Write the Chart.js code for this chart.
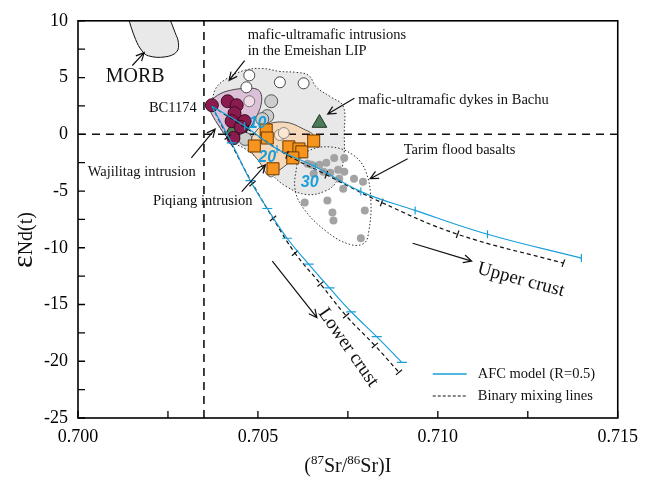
<!DOCTYPE html>
<html>
<head>
<meta charset="utf-8">
<script src="https://cdn.jsdelivr.net/npm/chart.js@4.4.1/dist/chart.umd.min.js"></script>
<style>
  html, body { margin: 0; padding: 0; background: #fff; }
  canvas { display: block; }
</style>
</head>
<body>
<canvas id="srNdChart" width="646" height="484"></canvas>
<script>
// axis ticks
const xTickValues = [0.700, 0.7025, 0.705, 0.7075, 0.710, 0.7125, 0.715];
const xTickLabels = ['0.700', '', '0.705', '', '0.710', '', '0.715'];
const yTickValues = [-25, -22.5, -20, -17.5, -15, -12.5, -10, -7.5, -5, -2.5, 0, 2.5, 5, 7.5, 10];
const yTickLabels = ['-25', '', '-20', '', '-15', '', '-10', '', '-5', '', '0', '', '5', '', '10'];

// reference lines
const bulkEarthSr = 0.7035;
const chondriteNd = 0;

// Wajilitag intrusion (maroon circles), first one is BC1174
const wajilitagSr = [0.70372, 0.70416, 0.70441, 0.70435, 0.70463, 0.70427, 0.70452, 0.70432];
const wajilitagNd = [2.56, 2.91, 2.56, 1.86, 1.16, 1.16, 0.64, -0.33];
const wajilitagOpenSr = [0.70476];
const wajilitagOpenNd = [2.91];

// Piqiang intrusion (orange squares)
const piqiangSr = [0.70523, 0.70526, 0.70490, 0.70586, 0.70614, 0.70622, 0.70597, 0.70542, 0.70655];
const piqiangNd = [0.38, -0.33, -1.03, -1.11, -1.29, -1.55, -2.08, -3.04, -0.59];
const piqiangOpenSr = [0.70561, 0.70572];
const piqiangOpenNd = [-0.06, 0.11];

// Emeishan LIP intrusions
const emeishanSr = [0.70476, 0.70468, 0.70561, 0.70627];
const emeishanNd = [5.19, 4.14, 4.58, 4.49];
const grayIntrusionSr = [0.70537, 0.70526, 0.70512, 0.70465];
const grayIntrusionNd = [2.91, 1.60, 1.34, -0.41];

// Bachu dykes
const bachuSr = [0.70671, 0.70430];
const bachuNd = [0.99, 0.38];

// Tarim flood basalts
const tarimSr = [0.70649, 0.70671, 0.70690, 0.70712, 0.70740, 0.70638, 0.70655, 0.70682, 0.70701, 0.70723, 0.70740,
  0.70726, 0.70767, 0.70792, 0.70737, 0.70630, 0.70693, 0.70707, 0.70710, 0.70797, 0.70786];
const tarimNd = [-2.69, -2.69, -2.51, -2.08, -2.08, -2.60, -3.48, -3.30, -3.39, -3.13, -3.30,
  -3.91, -3.91, -4.18, -4.79, -6.01, -5.84, -6.89, -7.59, -6.71, -9.16];

// AFC model and binary mixing curves (points at 10 % steps)
const afcUpperSr = [0.70372, 0.70463, 0.70553, 0.70660, 0.70786, 0.70937, 0.71138, 0.71399];
const afcUpperNd = [2.48, 0.73, -1.29, -2.86, -5.05, -6.71, -8.81, -10.91];
const mixUpperSr = [0.70372, 0.70471, 0.70581, 0.70690, 0.70844, 0.71055, 0.71349];
const mixUpperNd = [2.48, 0.46, -1.81, -3.56, -6.01, -8.81, -11.35];
const afcLowerSr = [0.70372, 0.70427, 0.70479, 0.70526, 0.70581, 0.70641, 0.70699, 0.70759, 0.70830, 0.70900];
const afcLowerNd = [2.48, -0.76, -4.09, -6.54, -9.16, -11.44, -13.54, -15.64, -17.83, -20.10];
const mixLowerSr = [0.70372, 0.70416, 0.70485, 0.70542, 0.70603, 0.70674, 0.70745, 0.70825, 0.70892];
const mixLowerNd = [2.48, -0.24, -4.35, -7.41, -10.47, -13.19, -15.99, -18.61, -20.97];

// field outlines
const morbFieldSr = [0.70137, 0.70160, 0.70178, 0.70196, 0.70242, 0.70274, 0.70279, 0.70270, 0.70251];
const morbFieldNd = [10.5, 8.36, 7.35, 6.91, 6.82, 7.26, 8.08, 8.95, 10.5];
const emeishanFieldSr = [0.70372, 0.70383, 0.70410, 0.70462, 0.70512, 0.70561, 0.70608, 0.70641, 0.70663, 0.70704, 0.70737,
  0.70740, 0.70737, 0.70718, 0.70690, 0.70635, 0.70575, 0.70531, 0.70493, 0.70465, 0.70430, 0.70394];
const emeishanFieldNd = [2.83, 4.05, 4.84, 5.63, 5.80, 5.54, 5.45, 5.19, 4.14, 3.26, 2.48,
  0.20, -2.43, -4.18, -4.96, -5.31, -4.53, -3.30, -1.99, -1.29, -0.68, 0.64];
const wajilitagFieldSr = [0.70361, 0.70388, 0.70424, 0.70471, 0.70498, 0.70509, 0.70509, 0.70498, 0.70479, 0.70457, 0.70435, 0.70421, 0.70388, 0.70366];
const wajilitagFieldNd = [2.65, 3.44, 3.88, 4.05, 3.96, 3.53, 2.65, 1.69, 0.64, 0.03, -0.68, -0.50, 0.90, 2.13];
const piqiangFieldSr = [0.70476, 0.70493, 0.70512, 0.70572, 0.70627, 0.70657, 0.70638, 0.70600, 0.70561, 0.70534, 0.70504, 0.70479];
const piqiangFieldNd = [-0.67, 0.20, 0.73, 1.08, 0.46, -0.24, -1.20, -2.16, -3.13, -3.74, -2.43, -1.38];
const tarimFieldSr = [0.70608, 0.70635, 0.70699, 0.70764, 0.70800, 0.70814, 0.70808, 0.70795, 0.70754, 0.70690, 0.70627, 0.70603];
const tarimFieldNd = [-2.69, -1.55, -1.11, -1.81, -3.30, -5.93, -8.55, -9.60, -9.69, -8.55, -6.54, -4.79];

const CYAN = '#1a9fd9';
const SERIF = '"Liberation Serif", "Times New Roman", serif';

const pts = (xs, ys) => xs.map((v, i) => ({ x: v, y: ys[i] }));
const closed = (xs, ys) => pts(xs.concat(xs[0]), ys.concat(ys[0]));

function field(data, fillColor, lineColor, dash, order) {
  return {
    data: data, showLine: true, fill: fillColor ? 'shape' : false,
    backgroundColor: fillColor || 'transparent', borderColor: lineColor, borderWidth: 1,
    borderDash: dash, pointRadius: 0, tension: 0.4, order: order
  };
}

function curve(xs, ys, color, dash, order) {
  return {
    data: pts(xs, ys), showLine: true, fill: false, borderColor: color, borderWidth: 1.2,
    borderDash: dash, pointRadius: 0, tension: 0.4, order: order
  };
}

function curveTicks(xs, ys, color, rot, r, order) {
  return {
    data: pts(xs.slice(1), ys.slice(1)), showLine: false, pointStyle: 'line',
    pointRotation: rot, pointRadius: r, pointBorderColor: color, pointBorderWidth: 1.2,
    pointBackgroundColor: color, order: order
  };
}

function symbols(xs, ys, style, r, fillColor, lineColor, order) {
  return {
    data: pts(xs, ys), showLine: false, pointStyle: style, pointRadius: r,
    pointBackgroundColor: fillColor, pointBorderColor: lineColor,
    pointBorderWidth: lineColor ? 1 : 0, order: order
  };
}

const datasets = [
  field(pts(morbFieldSr, morbFieldNd), '#e9e9e9', '#111', [], 100),
  field(closed(emeishanFieldSr, emeishanFieldNd), '#e8e8e8', '#333', [1.5, 2], 99),
  field(closed(tarimFieldSr, tarimFieldNd), null, '#333', [1.5, 2], 98),
  field(closed(wajilitagFieldSr, wajilitagFieldNd), '#dcc0d8', '#444', [], 97),
  field(closed(piqiangFieldSr, piqiangFieldNd), '#f8d8ba', '#555', [], 96),
  {
    data: [{ x: bulkEarthSr, y: -25 }, { x: bulkEarthSr, y: 10 }], showLine: true, borderColor: '#111',
    borderWidth: 1.6, borderDash: [8, 6], pointRadius: 0, order: 90
  },
  {
    data: [{ x: 0.700, y: chondriteNd }, { x: 0.715, y: chondriteNd }], showLine: true, borderColor: '#111',
    borderWidth: 1.6, borderDash: [8, 6], pointRadius: 0, order: 90
  },
  symbols(tarimSr, tarimNd, 'circle', 4, '#a3a3a3', null, 60),
  symbols(emeishanSr, emeishanNd, 'circle', 5.5, '#ffffff', '#444', 55),
  symbols(grayIntrusionSr, grayIntrusionNd, 'circle', 6.5, '#cdcdcd', '#555', 54),
  symbols(wajilitagOpenSr, wajilitagOpenNd, 'circle', 5.5, '#f3dcea', '#777', 53),
  symbols(piqiangOpenSr, piqiangOpenNd, 'circle', 5.5, '#fbe7d3', '#888', 53),
  symbols(bachuSr, bachuNd, 'triangle', 8.5, '#4d7a58', '#1d3623', 52),
  symbols(wajilitagSr, wajilitagNd, 'circle', 6.5, '#8b1b4e', '#3a0b20', 51),
  symbols(piqiangSr, piqiangNd, 'rect', 8.5, '#f7941d', '#6b3a00', 50),
  curve(mixUpperSr, mixUpperNd, '#111', [4, 3], 20),
  curve(mixLowerSr, mixLowerNd, '#111', [4, 3], 20),
  curveTicks(mixUpperSr, mixUpperNd, '#111', -70, 4, 19),
  curveTicks(mixLowerSr, mixLowerNd, '#111', -40, 4, 19),
  curve(afcUpperSr, afcUpperNd, CYAN, [], 10),
  curve(afcLowerSr, afcLowerNd, CYAN, [], 10),
  curveTicks(afcUpperSr, afcUpperNd, CYAN, 90, 4, 9),
  curveTicks(afcLowerSr, afcLowerNd, CYAN, 0, 5, 9)
];

// labels placed in data units
const notes = [
  { text: 'MORB', x: 0.70159, y: 5.10, size: 20, align: 'center' },
  { text: 'mafic-ultramafic intrusions', x: 0.70472, y: 8.69, size: 14.5, align: 'left' },
  { text: 'in the Emeishan LIP', x: 0.70472, y: 7.29, size: 14.5, align: 'left' },
  { text: 'mafic-ultramafic dykes in Bachu', x: 0.70779, y: 3.00, size: 14.5, align: 'left' },
  { text: 'BC1174', x: 0.70330, y: 2.30, size: 14.5, align: 'right' },
  { text: 'Wajilitag intrusion', x: 0.70027, y: -3.30, size: 14.5, align: 'left' },
  { text: 'Piqiang intrusion', x: 0.70485, y: -5.93, size: 14.5, align: 'right' },
  { text: 'Tarim flood basalts', x: 0.70905, y: -1.38, size: 14.5, align: 'left' },
  { text: 'Upper crust', x: 0.71231, y: -12.84, size: 19, align: 'center', angle: 15 },
  { text: 'Lower crust', x: 0.70751, y: -18.79, size: 19, align: 'center', angle: 55 }
];
const fractionLabels = [
  { text: '10', x: 0.70499, y: 0.90 },
  { text: '20', x: 0.70526, y: -2.08 },
  { text: '30', x: 0.70644, y: -4.26 }
];
const arrows = [
  [0.70151, 6.06, 0.70184, 7.20],
  [0.70463, 6.50, 0.70420, 4.75],
  [0.70768, 3.18, 0.70694, 1.78],
  [0.70315, -2.08, 0.70381, 0.46],
  [0.70455, -5.05, 0.70521, -2.69],
  [0.70916, -2.16, 0.70812, -3.91],
  [0.70930, -9.60, 0.71094, -11.18],
  [0.70540, -11.18, 0.70664, -16.16]
];

const decor = {
  id: 'decor',
  beforeDraw(chart) {
    const c = chart.ctx;
    c.save();
    c.fillStyle = '#fff';
    c.fillRect(0, 0, chart.width, chart.height);
    c.restore();
  },
  afterDatasetsDraw(chart) {
    const { ctx, chartArea: a, scales: { x, y } } = chart;
    const X = v => x.getPixelForValue(v);
    const Y = v => y.getPixelForValue(v);
    ctx.save();

    // frame and inward ticks
    ctx.strokeStyle = '#000';
    ctx.lineWidth = 1.6;
    ctx.strokeRect(a.left, a.top, a.right - a.left, a.bottom - a.top);
    ctx.lineWidth = 1.3;
    ctx.beginPath();
    xTickValues.forEach(v => { ctx.moveTo(X(v), a.bottom); ctx.lineTo(X(v), a.bottom - 7); });
    yTickValues.forEach(v => { ctx.moveTo(a.left, Y(v)); ctx.lineTo(a.left + 7, Y(v)); });
    ctx.stroke();

    // arrows
    ctx.lineWidth = 1.2;
    ctx.strokeStyle = '#111';
    arrows.forEach(([x1, y1, x2, y2]) => {
      const p1 = [X(x1), Y(y1)], p2 = [X(x2), Y(y2)];
      const ang = Math.atan2(p2[1] - p1[1], p2[0] - p1[0]);
      ctx.beginPath();
      ctx.moveTo(p1[0], p1[1]);
      ctx.lineTo(p2[0], p2[1]);
      ctx.moveTo(p2[0] - 9 * Math.cos(ang - 0.45), p2[1] - 9 * Math.sin(ang - 0.45));
      ctx.lineTo(p2[0], p2[1]);
      ctx.lineTo(p2[0] - 9 * Math.cos(ang + 0.45), p2[1] - 9 * Math.sin(ang + 0.45));
      ctx.stroke();
    });

    // text notes
    ctx.fillStyle = '#111';
    ctx.textBaseline = 'middle';
    notes.forEach(n => {
      ctx.save();
      ctx.translate(X(n.x), Y(n.y));
      if (n.angle) ctx.rotate(n.angle * Math.PI / 180);
      ctx.font = n.size + 'px ' + SERIF;
      ctx.textAlign = n.align;
      ctx.fillText(n.text, 0, 0);
      ctx.restore();
    });

    ctx.fillStyle = CYAN;
    ctx.font = 'italic bold 16px "Liberation Sans", Arial, sans-serif';
    ctx.textAlign = 'center';
    fractionLabels.forEach(f => ctx.fillText(f.text, X(f.x), Y(f.y)));

    // legend
    const lx = a.right - 185;
    ctx.strokeStyle = CYAN;
    ctx.lineWidth = 1.5;
    ctx.beginPath();
    ctx.moveTo(lx, a.bottom - 44);
    ctx.lineTo(lx + 34, a.bottom - 44);
    ctx.stroke();
    ctx.strokeStyle = '#111';
    ctx.lineWidth = 1;
    ctx.setLineDash([3, 2]);
    ctx.beginPath();
    ctx.moveTo(lx, a.bottom - 22);
    ctx.lineTo(lx + 35, a.bottom - 22);
    ctx.stroke();
    ctx.setLineDash([]);
    ctx.fillStyle = '#111';
    ctx.textAlign = 'left';
    ctx.font = '14.5px ' + SERIF;
    ctx.fillText('AFC model (R=0.5)', lx + 45, a.bottom - 44);
    ctx.fillText('Binary mixing lines', lx + 45, a.bottom - 22);

    // y title
    ctx.save();
    ctx.translate(32, 240);
    ctx.rotate(-Math.PI / 2);
    ctx.textBaseline = 'alphabetic';
    ctx.font = '30px ' + SERIF;
    const w1 = ctx.measureText('\u025B').width;
    ctx.font = '20px ' + SERIF;
    const w2 = ctx.measureText('Nd(t)').width;
    const sx = -(w1 + w2) / 2;
    ctx.font = '30px ' + SERIF;
    ctx.fillText('\u025B', sx, 0);
    ctx.font = '20px ' + SERIF;
    ctx.fillText('Nd(t)', sx + w1, 0);
    ctx.restore();

    // x title with superscripts
    const parts = [['(', 20, 0], ['87', 13, -8], ['Sr/', 20, 0], ['86', 13, -8], ['Sr)I', 20, 0]];
    let total = 0;
    parts.forEach(p => { ctx.font = p[1] + 'px ' + SERIF; total += ctx.measureText(p[0]).width; });
    let tx = (a.left + a.right) / 2 - total / 2;
    ctx.textBaseline = 'alphabetic';
    ctx.textAlign = 'left';
    parts.forEach(p => {
      ctx.font = p[1] + 'px ' + SERIF;
      ctx.fillText(p[0], tx, 472 + p[2]);
      tx += ctx.measureText(p[0]).width;
    });

    ctx.restore();
  }
};

const ctx = document.getElementById('srNdChart').getContext('2d');
const srNdChart = new Chart(ctx, {
  type: 'scatter',
  data: { datasets: datasets },
  options: {
    responsive: false,
    animation: false,
    layout: { padding: { top: 18, right: 21, left: 0, bottom: 0 } },
    plugins: { legend: { display: false }, tooltip: { enabled: false } },
    scales: {
      x: {
        type: 'linear', min: 0.700, max: 0.715,
        afterBuildTicks: s => { s.ticks = xTickValues.map(v => ({ value: v })); },
        afterFit: s => { s.height = 66; },
        ticks: {
          autoSkip: false, maxRotation: 0, padding: 8, color: '#000',
          font: { family: SERIF, size: 18 },
          callback: (v, i) => xTickLabels[i]
        },
        grid: { display: false, drawTicks: false },
        border: { display: false }
      },
      y: {
        type: 'linear', min: -25, max: 10,
        afterBuildTicks: s => { s.ticks = yTickValues.map(v => ({ value: v })); },
        afterFit: s => { s.width = 78; },
        ticks: {
          autoSkip: false, padding: 10, color: '#000',
          font: { family: SERIF, size: 18 },
          callback: (v, i) => yTickLabels[i]
        },
        grid: { display: false, drawTicks: false },
        border: { display: false }
      }
    }
  },
  plugins: [decor]
});
</script>
</body>
</html>
